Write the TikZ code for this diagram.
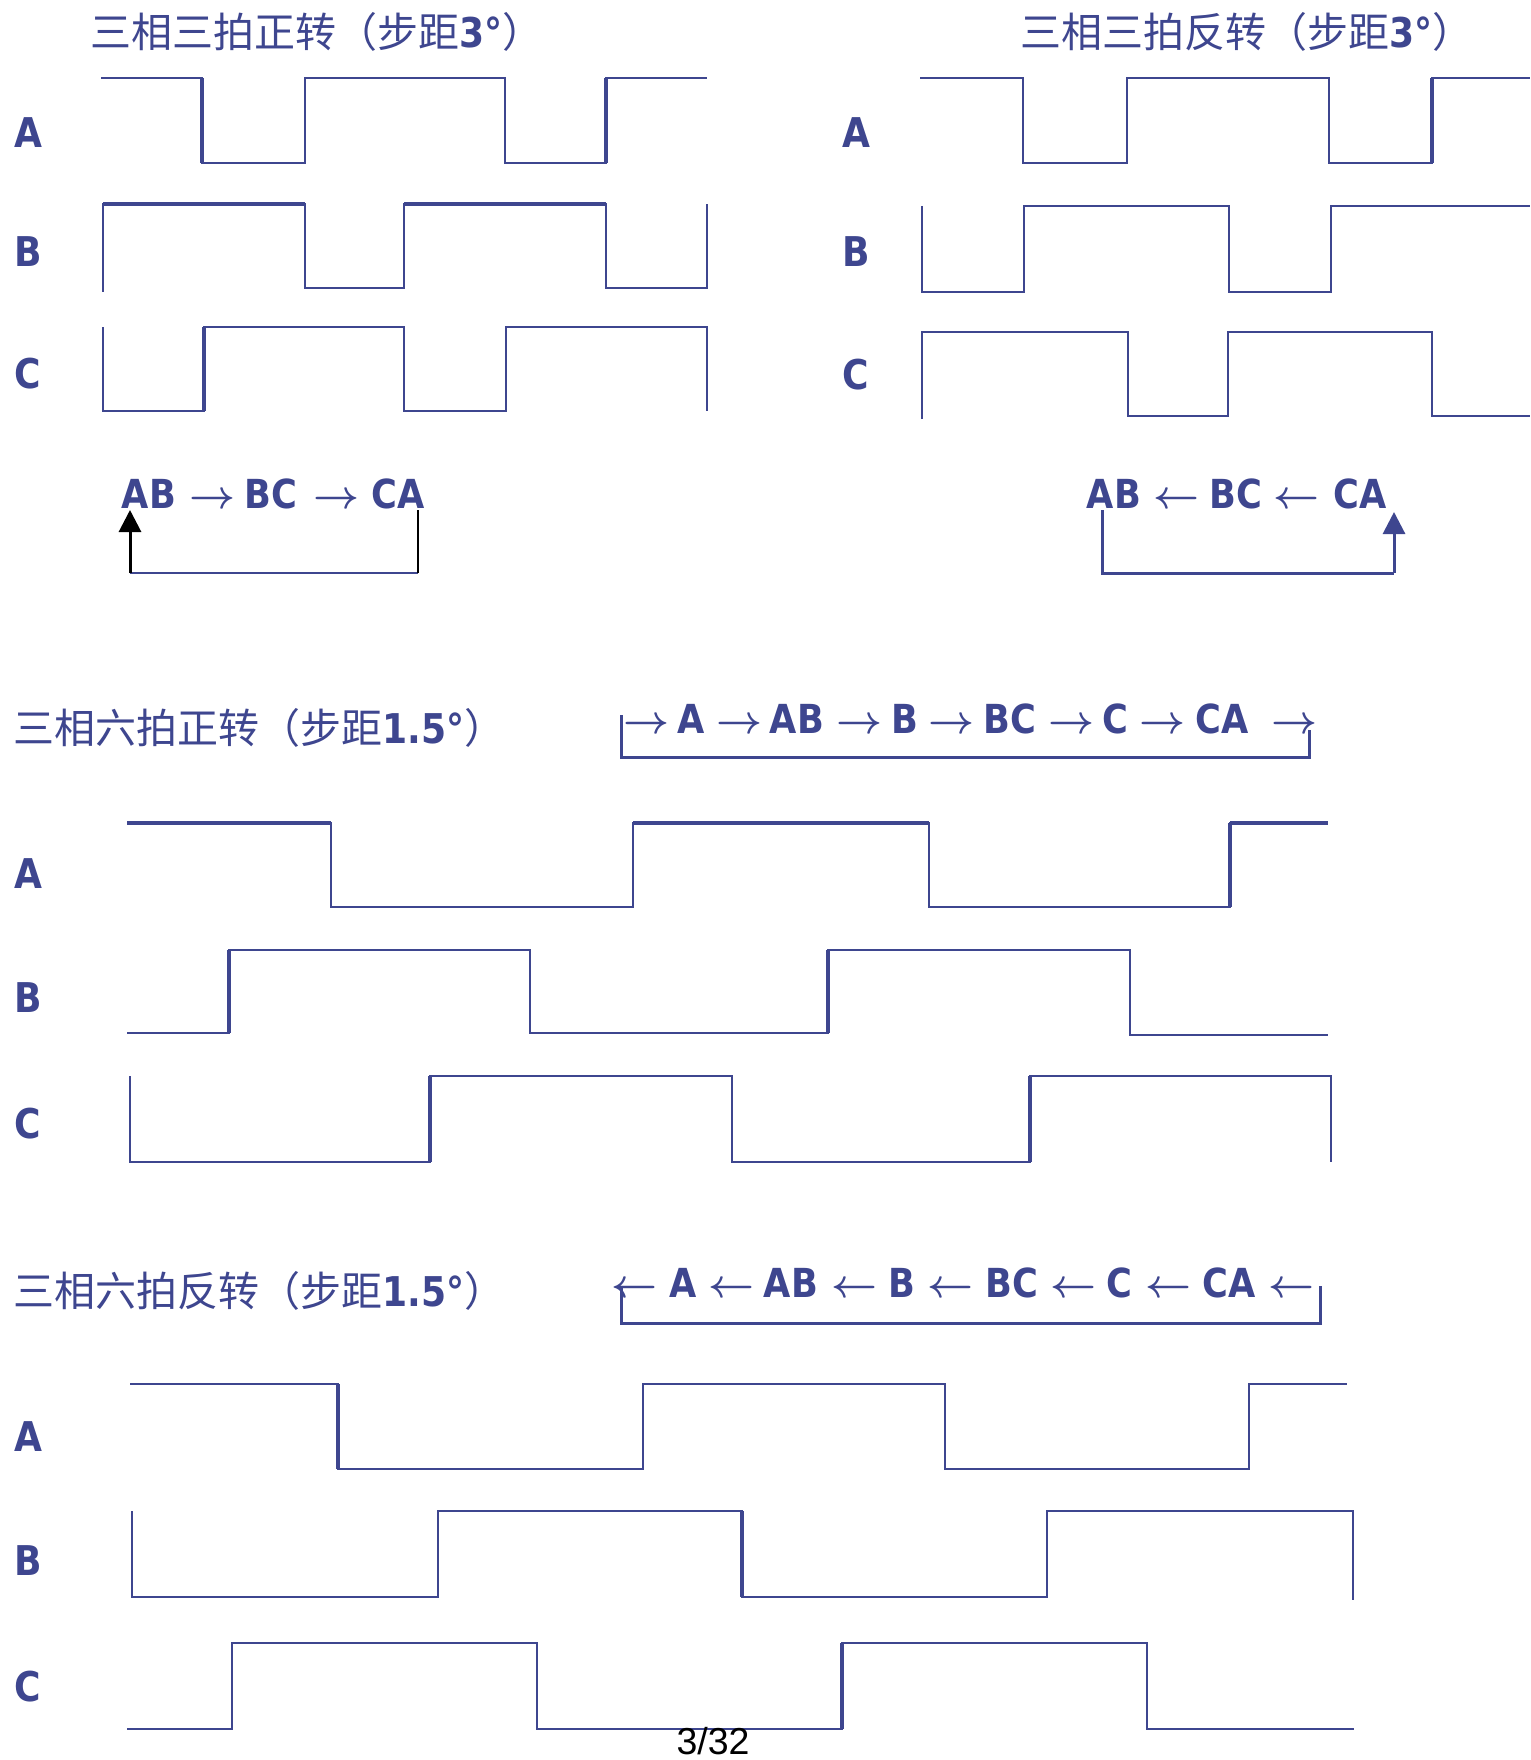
\documentclass[tikz,border=0pt]{standalone}
\usepackage{graphicx}
\usepackage{fontspec}
\setmainfont{DejaVu Sans}
\newfontfamily\cjkf{Noto Sans CJK SC}
\newfontfamily\labf[FakeStretch=0.88]{DejaVu Sans}
\newfontfamily\pgnf{Liberation Sans}
\usetikzlibrary{arrows.meta}
\definecolor{wblue}{RGB}{62,70,143}
\newcommand{\rar}{\scalebox{4}{\normalsize\boldmath$\rightarrow$}}
\newcommand{\lar}{\scalebox{4}{\normalsize\boldmath$\leftarrow$}}
\tikzset{
  wave/.style={draw=wblue, line width=2.3pt, line join=miter},
  thk/.style={draw=wblue, line width=4pt, line cap=butt},
  ttl/.style={anchor=base west, inner sep=0pt, text=wblue, font=\cjkf\fontsize{41}{49}\selectfont},
  lab/.style={anchor=base, inner sep=0pt, text=wblue, font=\labf\bfseries\fontsize{41}{49}\selectfont},
  seq/.style={anchor=base, inner sep=0pt, text=wblue, font=\labf\bfseries\fontsize{40}{48}\selectfont},
  brk/.style={draw=wblue, line width=3pt},
  tip/.style={-{Triangle[width=22pt,length=22pt]}},
}
\begin{document}
\begin{tikzpicture}[x=1pt,y=-1pt]
\useasboundingbox (0,0) rectangle (1530,1760);

% ---------- titles ----------
\node[ttl] (t1) at (90,48) {三相三拍正转（步距{\labf\bfseries 3°}）};
\node[ttl] (t2) at (1020,48) {三相三拍反转（步距{\labf\bfseries 3°}）};
\node[ttl] (t3) at (13,743) {三相六拍正转（步距{\labf\bfseries 1.5°}）};
\node[ttl] (t4) at (13,1306) {三相六拍反转（步距{\labf\bfseries 1.5°}）};

% ---------- phase labels ----------
\node[lab] (la1) at (28,148) {A};
\node[lab] (lb1) at (28,267) {B};
\node[lab] (lc1) at (28,388) {C};
\node[lab] (la2) at (856,148) {A};
\node[lab] (lb2) at (856,267) {B};
\node[lab] (lc2) at (856,389) {C};
\node[lab] (la3) at (28,888) {A};
\node[lab] (lb3) at (28,1012) {B};
\node[lab] (lc3) at (28,1138) {C};
\node[lab] (la4) at (28,1451) {A};
\node[lab] (lb4) at (28,1575) {B};
\node[lab] (lc4) at (28,1701) {C};

% ---------- top-left waveforms (3-beat forward) ----------
\draw[wave] (101,78)--(202,78)--(202,163)--(305,163)--(305,78)--(505,78)--(505,163)--(606,163)--(606,78)--(707,78);
\draw[wave] (103,292)--(103,204)--(305,204)--(305,288)--(404,288)--(404,204)--(606,204)--(606,288)--(707,288)--(707,204);
\draw[wave] (103,327)--(103,411)--(204,411)--(204,327)--(404,327)--(404,411)--(506,411)--(506,327)--(707,327)--(707,411);
\draw[thk] (202,78)--(202,163) (606,78)--(606,163) (103,204)--(305,204) (404,204)--(606,204) (204,327)--(204,411);

% ---------- top-right waveforms (3-beat reverse) ----------
\draw[wave] (920,78)--(1023,78)--(1023,163)--(1127,163)--(1127,78)--(1329,78)--(1329,163)--(1432,163)--(1432,78)--(1530,78);
\draw[wave] (922,206)--(922,292)--(1024,292)--(1024,206)--(1229,206)--(1229,292)--(1331,292)--(1331,206)--(1530,206);
\draw[wave] (922,419)--(922,332)--(1128,332)--(1128,416)--(1228,416)--(1228,332)--(1432,332)--(1432,416)--(1530,416);
\draw[thk] (1432,78)--(1432,163);

% ---------- top sequences ----------
\foreach \x/\t/\n in {149/AB/s1a, 212/\rar/s1b, 271/BC/s1c, 336/\rar/s1d, 398/CA/s1e}
  \node[seq] (\n) at (\x,508) {\t};
\foreach \x/\t/\n in {1114/AB/s2a, 1176/\lar/s2b, 1236/BC/s2c, 1296/\lar/s2d, 1360/CA/s2e}
  \node[seq] (\n) at (\x,508) {\t};

\coordinate (p1) at (130,573);
\coordinate (p2) at (418,573);
\coordinate (p1t) at (130,510);
\coordinate (p2t) at (418,510);
\draw[wblue, line width=2.5pt] (p1) -- (p2);
\draw[black, line width=3pt, tip] (p1) -- (p1t);
\draw[black, line width=1.5pt] (p2) -- (p2t);

\coordinate (q1t) at (1102,510);
\coordinate (q1) at (1102,573);
\coordinate (q2) at (1394,573);
\coordinate (q2t) at (1394,512);
\draw[brk] (q1t) -- (q1) -- (q2);
\draw[brk, tip] (q2) -- (q2t);

% ---------- middle (6-beat forward) ----------
\foreach \x/\t/\n in {646/\rar/m1, 691/A/m2, 739/\rar/m3, 797/AB/m4, 859/\rar/m5, 905/B/m6, 951/\rar/m7, 1010/BC/m8, 1071/\rar/m9, 1115/C/m10, 1162/\rar/m11, 1222/CA/m12, 1294/\rar/m13}
  \node[seq] (\n) at (\x,733) {\t};
\coordinate (r1) at (621,715);
\coordinate (r2) at (621,757);
\coordinate (r3) at (1309,757);
\coordinate (r4) at (1309,730);
\draw[brk] (r1) -- (r2) -- (r3) -- (r4);

\draw[wave] (127,823)--(331,823)--(331,907)--(633,907)--(633,823)--(929,823)--(929,907)--(1230,907)--(1230,823)--(1328,823);
\draw[wave] (127,1033)--(229,1033)--(229,950)--(530,950)--(530,1033)--(828,1033)--(828,950)--(1130,950)--(1130,1035)--(1328,1035);
\draw[wave] (130,1076)--(130,1162)--(430,1162)--(430,1076)--(732,1076)--(732,1162)--(1030,1162)--(1030,1076)--(1331,1076)--(1331,1162);
\draw[thk] (127,823)--(331,823) (633,823)--(929,823) (1230,823)--(1328,823) (1230,823)--(1230,907)
  (229,950)--(229,1033) (828,950)--(828,1033) (430,1076)--(430,1162) (1030,1076)--(1030,1162);

% ---------- bottom (6-beat reverse) ----------
\foreach \x/\t/\n in {634/\lar/b1, 683/A/b2, 731/\lar/b3, 791/AB/b4, 854/\lar/b5, 902/B/b6, 950/\lar/b7, 1012/BC/b8, 1073/\lar/b9, 1119/C/b10, 1168/\lar/b11, 1229/CA/b12, 1291/\lar/b13}
  \node[seq] (\n) at (\x,1297) {\t};
\coordinate (u1) at (621,1288);
\coordinate (u2) at (621,1323);
\coordinate (u3) at (1320,1323);
\coordinate (u4) at (1320,1286);
\draw[brk] (u1) -- (u2) -- (u3) -- (u4);

\draw[wave] (130,1384)--(338,1384)--(338,1469)--(643,1469)--(643,1384)--(945,1384)--(945,1469)--(1249,1469)--(1249,1384)--(1347,1384);
\draw[wave] (132,1511)--(132,1597)--(438,1597)--(438,1511)--(742,1511)--(742,1597)--(1047,1597)--(1047,1511)--(1353,1511)--(1353,1600);
\draw[wave] (127,1729)--(232,1729)--(232,1643)--(537,1643)--(537,1729)--(842,1729)--(842,1643)--(1147,1643)--(1147,1729)--(1354,1729);
\draw[thk] (338,1384)--(338,1469) (742,1511)--(742,1597) (842,1643)--(842,1729);

% ---------- page number ----------
\node[anchor=base, inner sep=0pt, font=\pgnf\fontsize{37.5}{45}\selectfont] (pg) at (713,1754) {3/32};
\end{tikzpicture}
\end{document}
